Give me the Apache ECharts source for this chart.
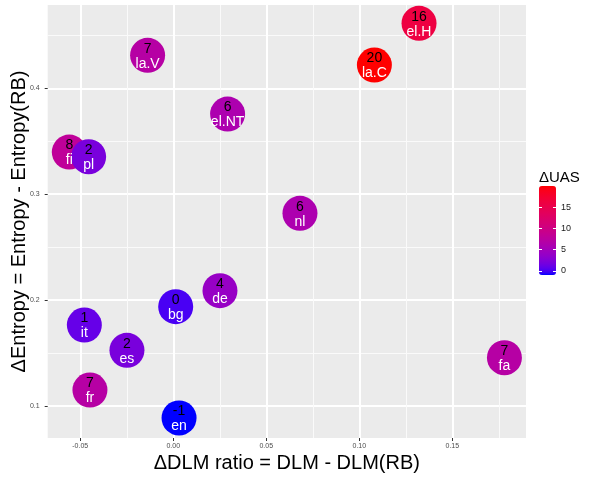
<!DOCTYPE html>
<html>
<head>
<meta charset="utf-8">
<script src="https://cdn.jsdelivr.net/npm/echarts@6/dist/echarts.min.js"></script>
<style>html,body{margin:0;padding:0;background:#fff}#c{width:600px;height:480px}</style>
</head>
<body>
<div id="c"></div>
<script>
// ---- data ----
const languages   = ['el.H','la.C','la.V','el.NT','fi','pl','nl','de','bg','it','es','fr','en','fa'];
const dlmDiff     = [0.1321,0.1081,-0.0138,0.0292,-0.0559,-0.0455,0.0681,0.0251,0.0013,-0.0478,-0.0249,-0.0448,0.0031,0.1780];
const entropyDiff = [0.4614,0.4220,0.4312,0.3757,0.3398,0.3354,0.2820,0.2089,0.1938,0.1765,0.1526,0.1151,0.0887,0.1456];
const uasDiff     = [16,20,7,6,8,2,6,4,0,1,2,7,-1,7];
const xTicks = [-0.05,0,0.05,0.10,0.15];
const xMinor = [-0.025,0.025,0.075,0.125,0.175];
const yTicks = [0.1,0.2,0.3,0.4];
const yMinor = [0.15,0.25,0.35,0.45];
const legendTicks = [0,5,10,15];
const uasMin = Math.min(...uasDiff), uasMax = Math.max(...uasDiff);

// ---- Lab colour interpolation (blue -> red, like ggplot's gradient) ----
function toLin(c){c/=255;return c<=0.04045?c/12.92:Math.pow((c+0.055)/1.055,2.4);}
function fromLin(c){c=c<=0.0031308?12.92*c:1.055*Math.pow(c,1/2.4)-0.055;return Math.round(Math.max(0,Math.min(1,c))*255);}
function rgb2lab(rgb){
  const r=toLin(rgb[0]),g=toLin(rgb[1]),b=toLin(rgb[2]);
  let X=(0.4124*r+0.3576*g+0.1805*b)/0.95047,Y=(0.2126*r+0.7152*g+0.0722*b),Z=(0.0193*r+0.1192*g+0.9505*b)/1.08883;
  const f=t=>t>0.008856?Math.cbrt(t):7.787*t+16/116;
  const fx=f(X),fy=f(Y),fz=f(Z);
  return [116*fy-16,500*(fx-fy),200*(fy-fz)];
}
function lab2rgb(lab){
  const fy=(lab[0]+16)/116,fx=fy+lab[1]/500,fz=fy-lab[2]/200;
  const fi=t=>t*t*t>0.008856?t*t*t:(t-16/116)/7.787;
  const X=fi(fx)*0.95047,Y=fi(fy),Z=fi(fz)*1.08883;
  const r=3.2406*X-1.5372*Y-0.4986*Z,g=-0.9689*X+1.8758*Y+0.0415*Z,b=0.0557*X-0.2040*Y+1.0570*Z;
  return 'rgb('+fromLin(r)+','+fromLin(g)+','+fromLin(b)+')';
}
const labLow=rgb2lab([0,0,255]),labHigh=rgb2lab([255,0,0]);
const stops=[];
for(let i=0;i<=40;i++){const t=i/40;stops.push(lab2rgb([0,1,2].map(k=>labLow[k]+(labHigh[k]-labLow[k])*t)));}

const points = languages.map((l,i)=>[dlmDiff[i],entropyDiff[i],uasDiff[i],l]);
const FONT='Liberation Sans, Arial, sans-serif';

const chart = echarts.init(document.getElementById('c'),null,{renderer:'canvas'});
chart.setOption({
  animation:false,
  backgroundColor:'#ffffff',
  textStyle:{fontFamily:FONT},
  grid:[
    {left:47.7,right:74,top:5,bottom:42,show:true,backgroundColor:'#ebebeb',borderWidth:0,containLabel:false,outerBoundsMode:'none'},
    {left:539,top:186,width:17,height:89,show:false,containLabel:false,outerBoundsMode:'none'}
  ],
  xAxis:[
    {type:'value',gridIndex:0,min:-0.0675,max:0.1896,
     name:'\u0394DLM ratio = DLM - DLM(RB)',nameLocation:'middle',nameGap:15,nameMoveOverlap:false,
     nameTextStyle:{fontSize:20,color:'#000',fontFamily:FONT},
     axisLine:{show:false,onZero:false},
     axisTick:{show:true,length:3,lineStyle:{color:'#333',width:1},customValues:xTicks},
     axisLabel:{show:true,fontSize:7,color:'#4d4d4d',margin:5,customValues:xTicks,formatter:v=>v.toFixed(2)},
     splitLine:{show:true,lineStyle:{color:'#ffffff',width:2}}},
    {type:'value',gridIndex:0,min:-0.0675,max:0.1896,
     axisLine:{show:false,onZero:false},axisLabel:{show:false},
     axisTick:{show:false,customValues:xMinor},
     splitLine:{show:true,lineStyle:{color:'#fafafa',width:1}}},
    {type:'value',gridIndex:1,min:0,max:1,show:false}
  ],
  yAxis:[
    {type:'value',gridIndex:0,min:0.0698,max:0.4787,
     name:'\u0394Entropy = Entropy - Entropy(RB)',nameLocation:'middle',nameGap:18,nameRotate:90,nameMoveOverlap:false,
     nameTextStyle:{fontSize:20,color:'#000',fontFamily:FONT},
     axisLine:{show:false,onZero:false},
     axisTick:{show:true,length:3,lineStyle:{color:'#333',width:1},customValues:yTicks},
     axisLabel:{show:true,fontSize:7,color:'#4d4d4d',margin:8,customValues:yTicks,formatter:v=>String(+v.toFixed(2))},
     splitLine:{show:true,lineStyle:{color:'#ffffff',width:2}}},
    {type:'value',gridIndex:0,min:0.0698,max:0.4787,position:'left',
     axisLine:{show:false,onZero:false},axisLabel:{show:false},
     axisTick:{show:false,customValues:yMinor},
     splitLine:{show:true,lineStyle:{color:'#fafafa',width:1}}},
    {type:'value',gridIndex:1,min:uasMin,max:uasMax,position:'right',z:10,
     axisLine:{show:false,onZero:false},
     axisTick:{show:true,inside:true,length:3,lineStyle:{color:'#ffffff',width:1},customValues:legendTicks},
     axisLabel:{show:true,fontSize:9,color:'#1a1a1a',margin:5,customValues:legendTicks},
     splitLine:{show:false}},
    {type:'value',gridIndex:1,min:uasMin,max:uasMax,position:'left',z:10,
     axisLine:{show:false,onZero:false},axisLabel:{show:false},
     axisTick:{show:true,inside:true,length:3,lineStyle:{color:'#ffffff',width:1},customValues:legendTicks},
     splitLine:{show:false}}
  ],
  visualMap:{
    type:'continuous',seriesIndex:0,dimension:2,min:uasMin,max:uasMax,
    show:true,calculable:false,left:539,top:186,itemWidth:17,itemHeight:89,padding:0,
    text:null,showLabel:false,inRange:{color:stops},hoverLink:false
  },
  graphic:[{type:'text',left:539,top:170,style:{text:'\u0394UAS',fontSize:15,fill:'#000',fontFamily:FONT}}],
  series:[
    {type:'scatter',xAxisIndex:0,yAxisIndex:0,data:points,symbolSize:35,
     itemStyle:{opacity:1},
     label:{show:true,position:'inside',offset:[0,1],
       formatter:p=>'{n|'+p.value[2]+'}\n{c|'+p.value[3]+'}',
       rich:{n:{fontSize:14,color:'#000',lineHeight:15,fontFamily:FONT},
             c:{fontSize:14,color:'#fff',lineHeight:15,fontFamily:FONT}}},
     emphasis:{disabled:true}}
  ]
});
</script>
</body>
</html>
